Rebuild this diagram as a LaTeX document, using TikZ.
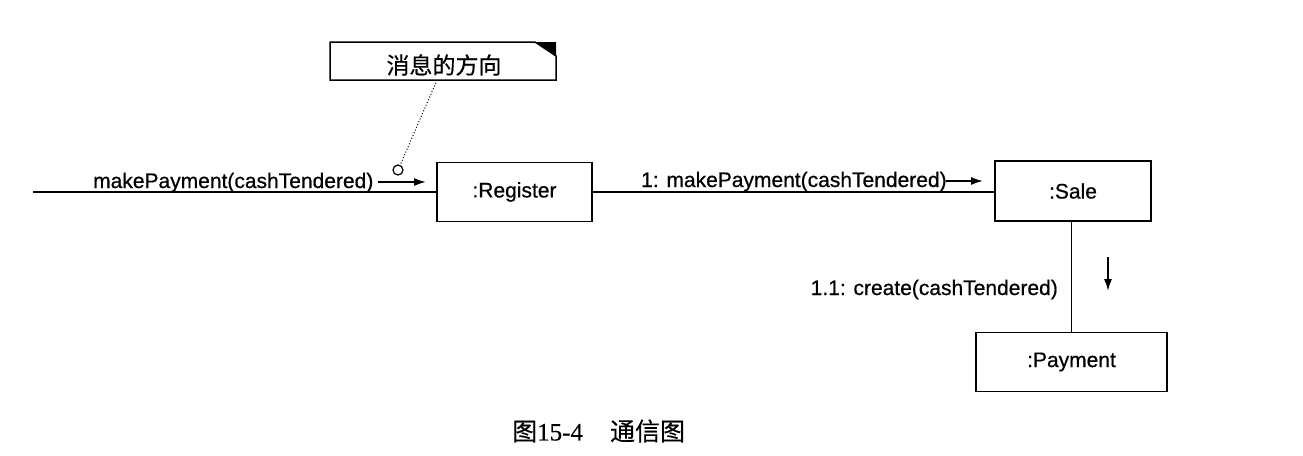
\documentclass[tikz,border=0pt]{standalone}
\usepackage{fontspec}
\setmainfont[FakeBold=0.6]{Liberation Sans}
\newfontfamily\cjk[FakeBold=0.4]{Noto Sans CJK SC}
\newfontfamily\capserif[FakeBold=0.4]{Liberation Serif}
\usetikzlibrary{arrows.meta}
\tikzset{
  lbl/.style={inner sep=0pt, font=\fontsize{21}{25}\selectfont},
  obj/.style={draw, line width=1.6pt, inner sep=0pt, font=\fontsize{21}{25}\selectfont},
  conn/.style={line width=1.4pt},
  msg/.style={line width=1.6pt, -{Latex[length=12pt,width=8pt]}},
}
\begin{document}
\begin{tikzpicture}[x=1pt,y=-1pt]
\useasboundingbox (0,0) rectangle (1303,455);
% objects
\node[obj, minimum width=155pt, minimum height=59pt] (reg) at (514.5,192) {:Register};
\node[obj, minimum width=156pt, minimum height=60pt] (sale) at (1073,191) {:Sale};
\node[obj, minimum width=191pt, minimum height=59pt] (pay) at (1071.5,362) {:Payment};
% note
\coordinate (nA) at (330,42);
\coordinate (nB) at (535,42);
\coordinate (nC) at (556,42);
\coordinate (nD) at (556,56);
\coordinate (nE) at (556,80);
\coordinate (nF) at (330,80);
\draw[line width=1.5pt] (nA) -- (nB) -- (nD) -- (nE) -- (nF) -- cycle;
\fill[black] (nB) -- (nC) -- (nD) -- cycle;
\node[inner sep=0pt, font=\cjk\fontsize{23}{27}\selectfont] (notetext) at (444,65) {消息的方向};
\coordinate (noteanchor) at (437,80);
\node[draw, circle, line width=1.2pt, minimum size=10pt, inner sep=0pt] (ring) at (398,170) {};
\draw[line width=1pt, dotted] (noteanchor) -- (ring);
% connectors
\coordinate (leftend) at (33,192);
\draw[conn] (leftend) -- (reg.west |- leftend);
\draw[conn] (reg.east) -- (reg.east -| sale.west);
\draw[conn] (sale.south -| pay.north) -- (pay.north);
% message labels
\node[lbl, anchor=base west] (m0) at (93,188) {makePayment(cashTendered)};
\node[lbl, anchor=base west] (m1) at (641,187) {1: makePayment(cashTendered)};
\node[lbl, anchor=base east] (m2) at (1058,295) {1.1: create(cashTendered)};
% message arrows
\coordinate (a0s) at (378,182);
\coordinate (a0e) at (426,182);
\draw[msg] (a0s) -- (a0e);
\coordinate (a1s) at (946,181);
\coordinate (a1e) at (983,181);
\draw[msg] (a1s) -- (a1e);
\coordinate (a2s) at (1108,257);
\coordinate (a2e) at (1108,291);
\draw[msg] (a2s) -- (a2e);
% caption
\node[inner sep=0pt, anchor=west, font=\fontsize{25}{29}\selectfont] (cap) at (512,431) {{\cjk 图}{\capserif 15-4}\hspace{27pt}{\cjk 通信图}};
\end{tikzpicture}
\end{document}
